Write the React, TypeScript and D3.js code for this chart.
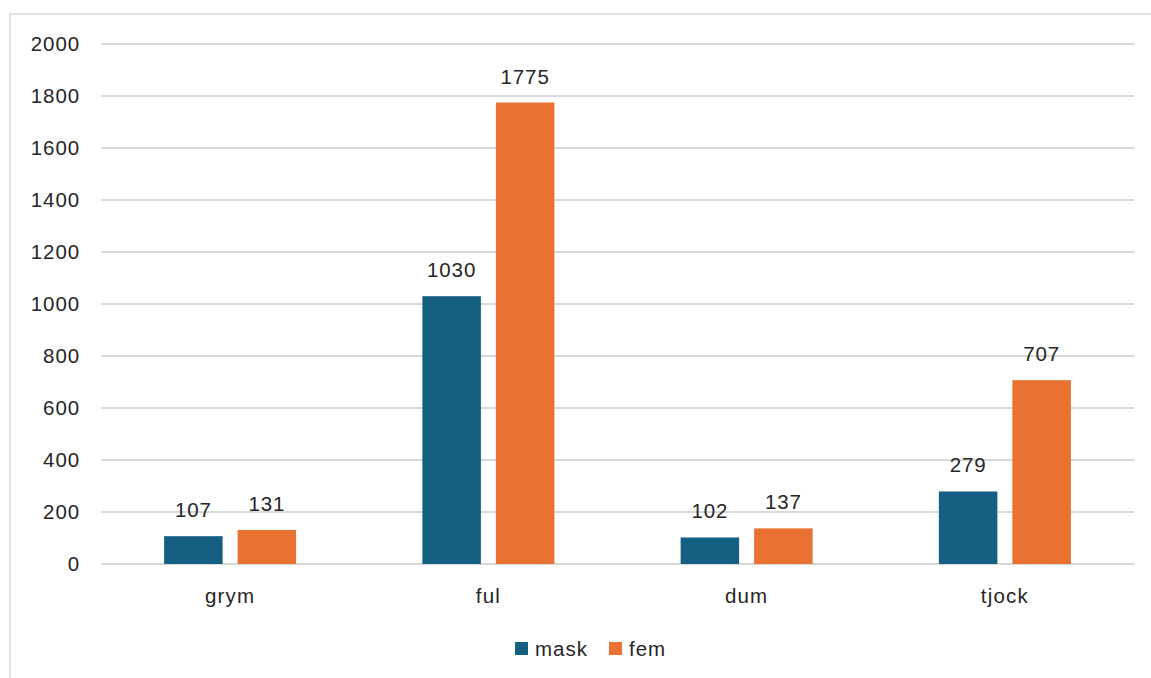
import React from "react";
import * as d3 from "d3";

const categories = ["grym", "ful", "dum", "tjock"];
const seriesNames = ["mask", "fem"];
const maskValues = [107, 1030, 102, 279];
const femValues = [131, 1775, 137, 707];
const yTicks = [0, 200, 400, 600, 800, 1000, 1200, 1400, 1600, 1800, 2000];
const colors = ["#156082", "#E97132"];

const W = 1151;
const H = 678;
const FONT = "'Liberation Sans', Arial, sans-serif";
const TEXT = "#262626";
const FS = 20.5;
const LS = 0.9;

export default function App() {
  const left = 101, right = 1134, top = 44, bottom = 564;
  const x = d3.scaleBand<string>().domain(categories).range([left, right]).paddingInner(0).paddingOuter(0);
  const y = d3.scaleLinear().domain([0, 2000]).range([bottom, top]);
  const barW = 58.5;
  const gap = 15;
  const series = [maskValues, femValues];

  return (
    <svg width={W} height={H} style={{ position: "absolute", left: 0, top: 0, background: "#fff" }}>
      <rect x={10} y={14} width={W + 20} height={H + 20} fill="#fff" stroke="#e3e3e3" strokeWidth={2} />
      {yTicks.map((t) => (
        <g key={t}>
          <line x1={left} x2={right} y1={y(t)} y2={y(t)} stroke="#d9d9d9" strokeWidth={2} />
          <text x={80} y={y(t)} dy="0.35em" textAnchor="end" fontFamily={FONT} fontSize={FS} letterSpacing={LS} fill={TEXT}>
            {t}
          </text>
        </g>
      ))}
      {categories.map((c, i) => {
        const cx = (x(c) as number) + x.bandwidth() / 2;
        return (
          <g key={c}>
            {series.map((vals, s) => {
              const bx = s === 0 ? cx - gap / 2 - barW : cx + gap / 2;
              const by = y(vals[i]);
              return (
                <g key={s}>
                  <rect x={bx} y={by} width={barW} height={bottom - by} fill={colors[s]} />
                  <text x={bx + barW / 2} y={by - 19} textAnchor="middle" fontFamily={FONT} fontSize={FS} letterSpacing={LS} fill={TEXT}>
                    {vals[i]}
                  </text>
                </g>
              );
            })}
            <text x={cx} y={596} dy="0.35em" textAnchor="middle" fontFamily={FONT} fontSize={FS} letterSpacing={1.2} fill={TEXT}>
              {c}
            </text>
          </g>
        );
      })}
      <g>
        {seriesNames.map((n, s) => {
          const lx = s === 0 ? 515 : 609;
          return (
            <g key={n}>
              <rect x={lx} y={642} width={13} height={13} fill={colors[s]} />
              <text x={lx + 20} y={648.5} dy="0.35em" fontFamily={FONT} fontSize={FS} letterSpacing={1.0} fill={TEXT}>
                {n}
              </text>
            </g>
          );
        })}
      </g>
    </svg>
  );
}
